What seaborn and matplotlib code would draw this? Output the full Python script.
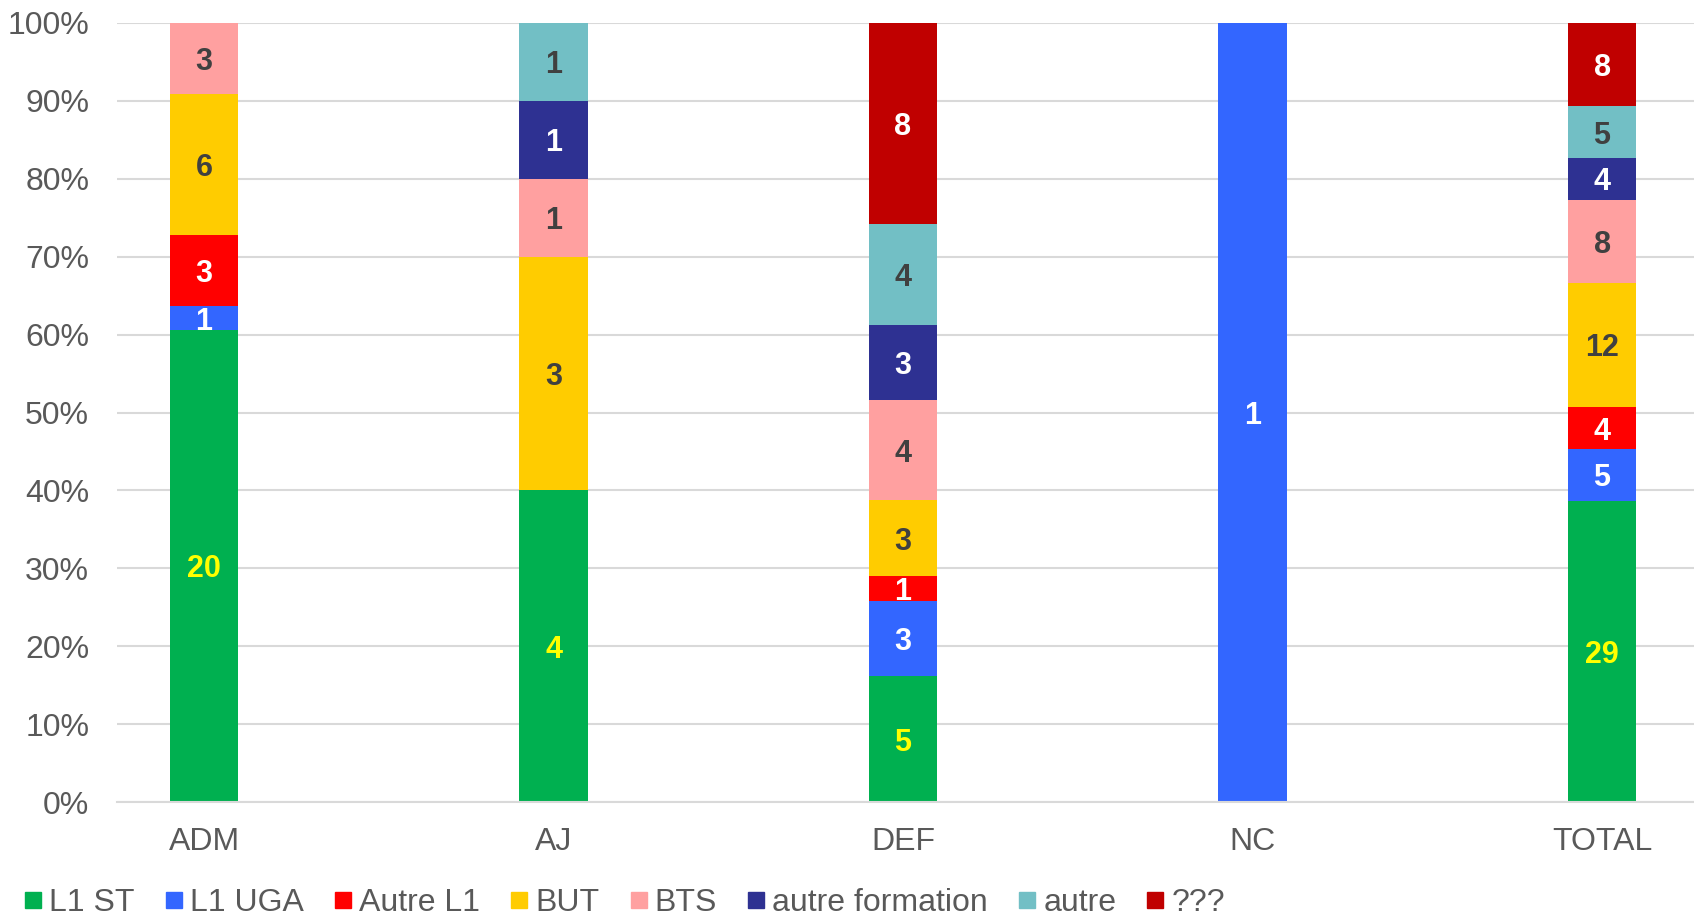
import numpy as np
import pandas as pd
import matplotlib
matplotlib.use("Agg")
import matplotlib.pyplot as plt
from matplotlib.lines import Line2D
import seaborn as sns

categories = ["ADM", "AJ", "DEF", "NC", "TOTAL"]
series = ["L1 ST", "L1 UGA", "Autre L1", "BUT", "BTS", "autre formation", "autre", "???"]
l1_st = [20, 4, 5, 0, 29]
l1_uga = [1, 0, 3, 1, 5]
autre_l1 = [3, 0, 1, 0, 4]
but = [6, 3, 3, 0, 12]
bts = [3, 1, 4, 0, 8]
autre_formation = [0, 1, 3, 0, 4]
autre = [0, 1, 4, 0, 5]
inconnu = [0, 0, 8, 0, 8]
y_ticklabels = ["0%", "10%", "20%", "30%", "40%", "50%", "60%", "70%", "80%", "90%", "100%"]

values = [l1_st, l1_uga, autre_l1, but, bts, autre_formation, autre, inconnu]
colors = ["#00B050", "#3366FF", "#FF0000", "#FFCC00", "#FFA0A0", "#2E3192", "#72BFC5", "#C00000"]
label_colors = ["#FFFF00", "white", "white", "#404040", "#404040", "white", "#404040", "white"]

rows = []
for s, vals in zip(series, values):
    for c, v in zip(categories, vals):
        rows.append({"cat": c, "serie": s, "n": v})
df = pd.DataFrame(rows)
df["x"] = df["cat"].map({c: i for i, c in enumerate(categories)})

sns.set_theme(style="white")
plt.rcParams["font.family"] = ["Liberation Sans", "DejaVu Sans"]

fig = plt.figure(figsize=(16.94, 9.16), dpi=100)
ax = fig.add_axes([117 / 1694, 1 - 802 / 916, 1 - 117 / 1694, (802 - 23) / 916])

palette = dict(zip(series, colors))
sns.histplot(data=df, x="x", weights="n", hue="serie", hue_order=series[::-1],
             multiple="fill", discrete=True, shrink=0.195, palette=palette,
             alpha=1, linewidth=0, legend=False, ax=ax)

# labels
arr = np.array(values, dtype=float)
tot = arr.sum(axis=0)
frac = arr / tot
cum = np.cumsum(frac, axis=0)
for i in range(len(series)):
    for j in range(len(categories)):
        if arr[i, j] > 0:
            yc = cum[i, j] - frac[i, j] / 2
            ax.text(j, yc, f"{int(arr[i, j])}", ha="center", va="center_baseline",
                    fontsize=22, fontweight="bold", color=label_colors[i])

ax.set_ylim(0, 1)
ax.set_xlim(-0.249, 4.263)
ax.set_yticks(np.linspace(0, 1, 11))
ax.set_yticklabels(y_ticklabels)
ax.set_xticks(range(len(categories)))
ax.set_xticklabels(categories)
ax.set_xlabel("")
ax.set_ylabel("")
ax.tick_params(axis="y", length=0, pad=20, labelsize=23, labelcolor="#595959")
ax.tick_params(axis="x", length=0, pad=18, labelsize=23, labelcolor="#595959")
ax.yaxis.grid(True, color="#D9D9D9", linewidth=1.5)
ax.set_axisbelow(True)
for sp in ["top", "right", "left"]:
    ax.spines[sp].set_visible(False)
ax.spines["bottom"].set_color("#D9D9D9")
ax.spines["bottom"].set_linewidth(1.5)

handles = [Line2D([0], [0], marker="s", linestyle="none", markersize=11,
                  markerfacecolor=c, markeredgecolor=c) for c in colors]
fig.legend(handles, series, loc="center left", bbox_to_anchor=(-0.006, 0.014),
           ncol=len(series), frameon=False, fontsize=23, labelcolor="#595959",
           handletextpad=0.05, columnspacing=0.78, handlelength=0.9)

fig.savefig("out.png", dpi=100, facecolor="white")
